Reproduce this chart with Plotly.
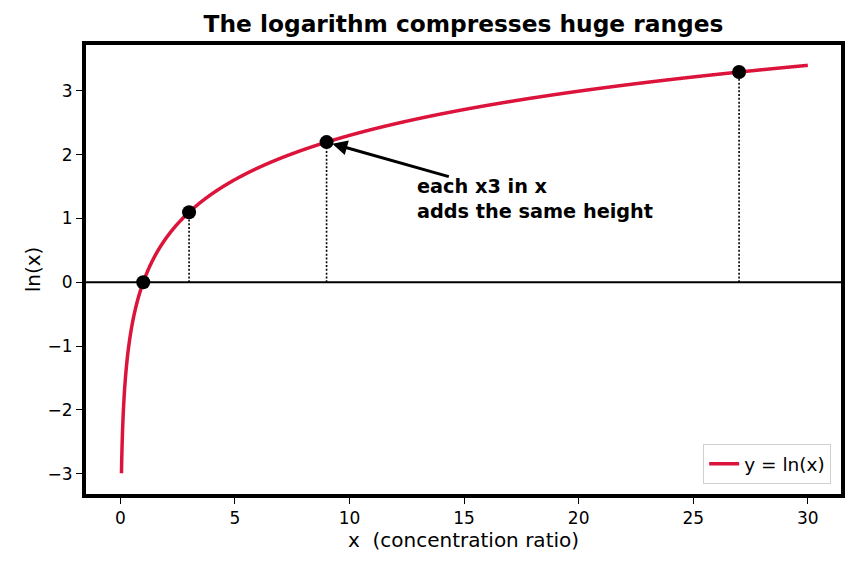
import numpy as np
import plotly.graph_objects as go

x_start, x_end = 0.05, 30.0
mark_x = [1, 3, 9, 27]
title = "The logarithm compresses huge ranges"
xlabel = "x  (concentration ratio)"
ylabel = "ln(x)"
note = "each x3 in x<br>adds the same height"

xs = np.linspace(x_start, x_end, 3000)
ys = np.log(xs)
my = [float(np.log(v)) for v in mark_x]

fig = go.Figure()
# dotted guides
for xv, yv in zip(mark_x[1:], my[1:]):
    fig.add_trace(go.Scatter(x=[xv, xv], y=[0, yv], mode="lines",
                             line=dict(color="black", width=1.6, dash="2px,1.8px"),
                             showlegend=False, hoverinfo="skip"))
fig.add_trace(go.Scatter(x=xs, y=ys, mode="lines", name="y = ln(x)",
                         line=dict(color="#DC143C", width=3.5, simplify=False)))
fig.add_trace(go.Scatter(x=mark_x, y=my, mode="markers", showlegend=False,
                         marker=dict(color="black", size=14)))

fig.add_shape(type="line", xref="paper", yref="y", x0=0, x1=1, y0=0, y1=0,
              line=dict(color="black", width=2.2))

fig.add_annotation(x=9, y=my[2], ax=14.4, ay=1.65, axref="x", ayref="y",
                   xref="x", yref="y", text="", showarrow=True,
                   arrowhead=2, arrowsize=1.0, arrowwidth=3, arrowcolor="black",
                   standoff=6)
fig.add_annotation(x=12.85, y=0.9, xref="x", yref="y", text="<b>" + note + "</b>",
                   showarrow=False, xanchor="left", yanchor="bottom", align="left",
                   font=dict(size=19.3, color="black"))

fig.update_layout(
    width=856, height=569,
    margin=dict(l=86, r=15, t=45, b=75),
    paper_bgcolor="white", plot_bgcolor="white",
    font=dict(family="DejaVu Sans", size=17, color="black"),
    title=dict(text="<b>" + title + "</b>", x=0.5, xref="paper", xanchor="center",
               y=0.972, yanchor="top", font=dict(size=23.3)),
    showlegend=True,
    legend=dict(x=0.987, y=0.022, xanchor="right", yanchor="bottom",
                bordercolor="#d0d0d0", borderwidth=1, bgcolor="white",
                font=dict(size=18.5)),
)
fig.update_xaxes(range=[-1.4975, 31.4475], tickvals=[0, 5, 10, 15, 20, 25, 30],
                 showgrid=False, zeroline=False, showline=True, linecolor="black",
                 linewidth=4, mirror=True, ticks="outside", ticklen=6, tickwidth=1.4,
                 tickcolor="black", title=dict(text=xlabel, standoff=6))
fig.update_yaxes(range=[-3.32, 3.72], tickvals=[-3, -2, -1, 0, 1, 2, 3],
                 ticktext=["\u22123", "\u22122", "\u22121", "0", "1", "2", "3"],
                 showgrid=False, zeroline=False, showline=True, linecolor="black",
                 linewidth=4, mirror=True, ticks="outside", ticklen=6, tickwidth=1.4,
                 tickcolor="black", title=dict(text=ylabel, standoff=3))

fig.write_html("out.html")
